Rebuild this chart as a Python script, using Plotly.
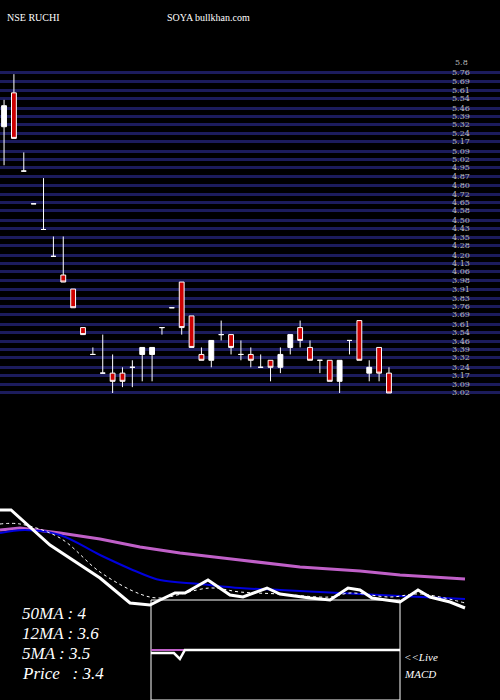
import numpy as np
import plotly.graph_objects as go

opens  = [5.30,5.59,4.92,4.64,4.42,4.19,4.03,3.91,3.58,3.35,3.19,3.19,3.19,3.24,3.35,3.35,3.58,3.75,3.97,3.68,
          3.35,3.30,3.52,3.52,3.35,3.35,3.24,3.30,3.24,3.41,3.58,3.41,3.30,3.30,3.12,3.47,3.64,3.19,3.41,3.19]
highs  = [5.53,5.75,5.08,4.64,4.86,4.36,4.36,3.91,3.58,3.41,3.52,3.35,3.24,3.30,3.41,3.41,3.58,3.75,3.97,3.68,
          3.41,3.47,3.64,3.52,3.47,3.41,3.35,3.30,3.41,3.52,3.64,3.47,3.30,3.30,3.30,3.47,3.64,3.30,3.41,3.24]
lows   = [4.97,5.20,4.92,4.64,4.42,4.19,3.97,3.75,3.52,3.35,3.19,3.02,3.07,3.07,3.12,3.12,3.52,3.75,3.52,3.41,
          3.30,3.24,3.47,3.35,3.30,3.24,3.24,3.12,3.19,3.35,3.41,3.30,3.19,3.12,3.02,3.35,3.30,3.12,3.12,3.02]
closes = [5.48,5.20,4.92,4.64,4.42,4.19,3.97,3.75,3.52,3.35,3.19,3.12,3.12,3.24,3.41,3.41,3.58,3.75,3.58,3.41,
          3.30,3.47,3.52,3.41,3.35,3.30,3.24,3.24,3.35,3.52,3.47,3.30,3.30,3.12,3.30,3.47,3.30,3.24,3.19,3.02]
days = list(range(len(opens)))

price_ticks = [round(v, 2) for v in np.linspace(5.76, 3.02, 38)]

ma_x     = [0,1.1,5,10,13,15,16,17.5,18.5,20.8,23,24.3,26.7,28,31,33,34.8,36,37.2,38.5,40,41.8,43,45,46.5]
price_ln = [5.50,5.50,4.80,4.14,3.64,3.60,3.70,3.84,3.84,4.10,3.80,3.76,3.94,3.82,3.74,3.70,3.94,3.90,3.74,3.70,3.66,3.90,3.76,3.66,3.54]
ma5_x  = [0,2,6,10,14,16,21,24,28,33,35,39,42,46.5]
ma5    = [5.22,5.22,4.94,4.26,3.82,3.74,3.94,3.86,3.82,3.76,3.84,3.76,3.82,3.64]
ma12_x = [0,2.5,6,10,14,16,20,24,28,34,40,46.5]
ma12   = [5.04,5.10,5.00,4.60,4.24,4.10,4.02,3.94,3.90,3.84,3.78,3.72]
ma50_x = [0,2,6,10,14,18,24,30,36,40,46.5]
ma50   = [5.10,5.14,5.04,4.92,4.76,4.64,4.50,4.36,4.28,4.20,4.12]

macd_x = [0,2.3,2.9,3.4,24,25.5]
macd   = [-0.03,-0.03,-0.09,0.0,0.0,0.0]
sig_x  = [0,25.5]
sig    = [0.0,0.0]

fig = go.Figure()
fig.add_trace(go.Candlestick(x=days, open=opens, high=highs, low=lows, close=closes,
    increasing=dict(line=dict(color="white", width=1), fillcolor="white"),
    decreasing=dict(line=dict(color="white", width=1), fillcolor="#cc0000"),
    whiskerwidth=0, xaxis="x", yaxis="y", showlegend=False))

fig.add_trace(go.Scatter(x=ma50_x, y=ma50, mode="lines", line=dict(color="#c060c8", width=3), xaxis="x2", yaxis="y2"))
fig.add_trace(go.Scatter(x=ma12_x, y=ma12, mode="lines", line=dict(color="#0000dd", width=2, shape="spline"), xaxis="x2", yaxis="y2"))
fig.add_trace(go.Scatter(x=ma5_x, y=ma5, mode="lines", line=dict(color="white", width=1, dash="dot", shape="spline"), xaxis="x2", yaxis="y2"))
fig.add_trace(go.Scatter(x=ma_x, y=price_ln, mode="lines", line=dict(color="white", width=3), xaxis="x2", yaxis="y2"))

fig.add_shape(type="rect", xref="paper", yref="paper", x0=0.302, x1=0.8, y0=0, y1=100/700,
              line=dict(color="white", width=1), fillcolor="black", layer="below")
fig.add_trace(go.Scatter(x=sig_x, y=sig, mode="lines", line=dict(color="#c060c8", width=2), xaxis="x3", yaxis="y3"))
fig.add_trace(go.Scatter(x=macd_x, y=macd, mode="lines", line=dict(color="white", width=2.5), xaxis="x3", yaxis="y3"))

fig.update_layout(
    width=500, height=700, margin=dict(l=0, r=0, t=0, b=0, pad=0, autoexpand=False),
    paper_bgcolor="black", plot_bgcolor="rgba(0,0,0,0)", showlegend=False,
    xaxis=dict(domain=[0, 1], range=[-0.41, 50.25], visible=False, rangeslider=dict(visible=False)),
    yaxis=dict(domain=[300/700, 1], range=[2.96, 6.385], tickvals=price_ticks, showticklabels=False,
               gridcolor="#1c1c5c", gridwidth=3, showline=False, zeroline=False),
    xaxis2=dict(domain=[0, 1], range=[0, 50], visible=False, anchor="y2"),
    yaxis2=dict(domain=[0, 210/700], range=[1.7, 5.9], visible=False, anchor="x2"),
    xaxis3=dict(domain=[0.302, 0.8], range=[0, 25], visible=False, anchor="y3"),
    yaxis3=dict(domain=[0, 100/700], range=[-0.5, 0.5], visible=False, anchor="x3"),
)

for v in price_ticks:
    fig.add_annotation(x=0.9, y=v, xref="paper", yref="y", text=f"{v:.2f}", showarrow=False,
                       xanchor="left", yanchor="middle",
                       font=dict(family="DejaVu Serif", size=8, color="#bbbbbb"))

fig.add_annotation(x=0.01, y=1-10/700, xref="paper", yref="paper", text="NSE RUCHI", showarrow=False,
                   xanchor="left", font=dict(family="Liberation Serif", size=10, color="white"))
fig.add_annotation(x=0.33, y=1-10/700, xref="paper", yref="paper", text="SOYA bullkhan.com", showarrow=False,
                   xanchor="left", font=dict(family="Liberation Serif", size=10, color="white"))
fig.add_annotation(x=0.905, y=1-56/700, xref="paper", yref="paper", text="5.8", showarrow=False,
                   xanchor="left", font=dict(family="DejaVu Serif", size=8, color="#bbbbbb"))
for i, t in enumerate(["50MA : 4", "12MA : 3.6", "5MA : 3.5", "Price   : 3.4"]):
    fig.add_annotation(x=0.04, y=1-(625+i*20)/700, xref="paper", yref="paper", text=f"<i>{t}</i>",
                       showarrow=False, xanchor="left", font=dict(family="Liberation Serif", size=17, color="white"))
fig.add_annotation(x=0.803, y=1-665/700, xref="paper", yref="paper", text="<i>&lt;&lt;Live</i>", showarrow=False,
                   xanchor="left", font=dict(family="Liberation Serif", size=11, color="white"))
fig.add_annotation(x=0.803, y=1-682/700, xref="paper", yref="paper", text="<i>MACD</i>", showarrow=False,
                   xanchor="left", font=dict(family="Liberation Serif", size=11, color="white"))

fig.write_html("out.html", config={"displayModeBar": False},
               post_script="document.body.style.margin='0';document.body.style.background='black';")
